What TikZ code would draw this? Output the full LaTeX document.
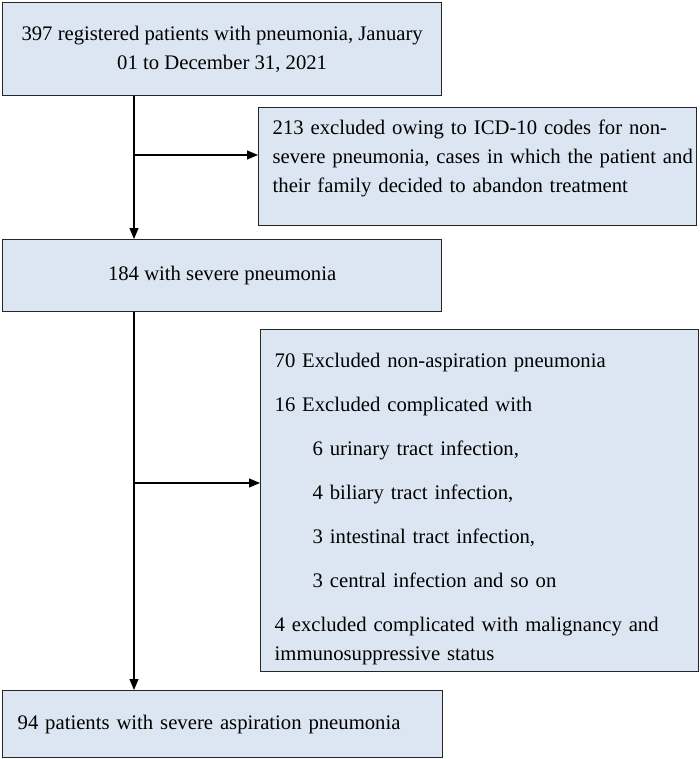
\documentclass[tikz,border=0pt]{standalone}
\usepackage{fontspec}
\setmainfont{Liberation Serif}
\usetikzlibrary{arrows.meta}
\definecolor{boxfill}{HTML}{DCE6F2}

\begin{document}
\begin{tikzpicture}[x=1pt,y=-1pt,
  box/.style={draw=black!85,fill=boxfill,line width=1.3pt,anchor=north west,
    inner sep=0pt,font=\fontsize{20.7}{29}\selectfont},
  flow/.style={line width=1.1pt,-{Triangle[length=11pt,width=9pt]}}]
  \useasboundingbox (0,0) rectangle (699,759);
  % -=-=-=-=- BOXES -=-=-=-=-
  \node[box,minimum width=439pt,minimum height=93pt,align=center] (reg) at (2,2)
    {397 registered patients with pneumonia, January\\01 to December 31, 2021};
  \node[box,minimum width=438pt,minimum height=118pt,text width=410pt,
    inner xsep=14pt,align=left] (excl1) at (258,107)
    {213 excluded owing to ICD-10 codes for non-\\
     \mbox{severe pneumonia, cases in which the patient and}\\
     their family decided to abandon treatment\par
     \vspace{16.5pt}\nointerlineskip\null};
  \node[box,minimum width=439pt,minimum height=72pt,align=center] (sev) at (2,239)
    {184 with severe pneumonia};
  \node[box,minimum width=436pt,minimum height=342pt,text width=410pt,
    inner xsep=14pt,align=left] (excl2) at (260,329)
    {70 Excluded non-aspiration pneumonia\\[15pt]
     16 Excluded complicated with\\[15pt]
     \hspace*{38pt}6 urinary tract infection,\\[15pt]
     \hspace*{38pt}4 biliary tract infection,\\[15pt]
     \hspace*{38pt}3 intestinal tract infection,\\[15pt]
     \hspace*{38pt}3 central infection and so on\\[15pt]
     4 excluded complicated with malignancy and\\immunosuppressive status\par
     \vspace{-17.5pt}\nointerlineskip\null};
  \node[box,minimum width=440pt,minimum height=67pt,text width=410pt,
    inner xsep=15pt,align=left] (asp) at (2,690)
    {94 patients with severe aspiration pneumonia};

  % -=-=-=-=- CONNECTORS -=-=-=-=-
  \coordinate (b1) at (134,155);
  \coordinate (b2) at (134,483);
  \draw[flow] (reg.south -| b1) -- (sev.north -| b1);
  \draw[flow] (b1) -- (excl1.west |- b1);
  \draw[flow] (sev.south -| b2) -- (asp.north -| b2);
  \draw[flow] (b2) -- (excl2.west |- b2);
\end{tikzpicture}
\end{document}
